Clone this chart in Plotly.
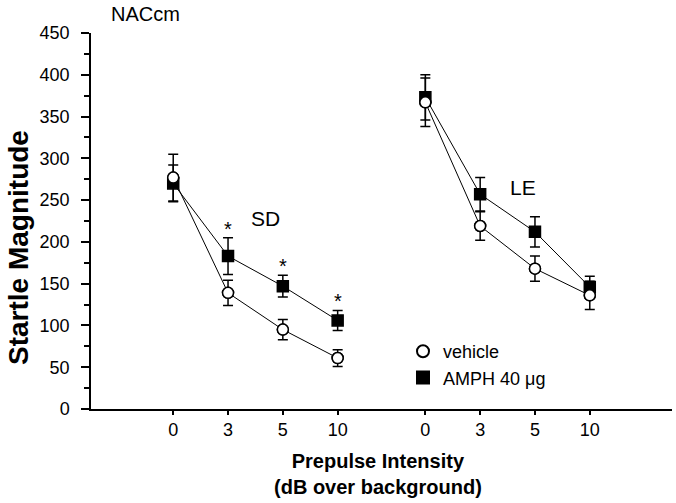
import plotly.graph_objects as go

# ---- data ----
tick_pos = [0, 1, 2, 3, 4.6, 5.6, 6.6, 7.6]
tick_labels = ["0", "3", "5", "10", "0", "3", "5", "10"]

sd_x = [0, 1, 2, 3]
le_x = [4.6, 5.6, 6.6, 7.6]

sd_vehicle = [277, 139, 95, 61]
sd_vehicle_err = [28, 15, 12, 10]
sd_amph = [270, 183, 147, 106]
sd_amph_err = [22, 22, 13, 12]

le_vehicle = [367, 219, 168, 136]
le_vehicle_err = [29, 17, 15, 17]
le_amph = [373, 257, 212, 146]
le_amph_err = [27, 20, 18, 13]

sig_idx = [1, 2, 3]  # SD points with asterisk

FONT = "Liberation Sans, Arial, Helvetica, sans-serif"

fig = go.Figure()

def add_series(x, y, err, symbol, fill):
    fig.add_trace(go.Scatter(
        x=x, y=y, mode="lines+markers", showlegend=False,
        line=dict(color="black", width=1),
        marker=dict(symbol=symbol, size=11, color=fill,
                    line=dict(color="black", width=1.5)),
        error_y=dict(type="data", array=err, color="black",
                     thickness=1.5, width=5),
    ))

add_series(sd_x, sd_vehicle, sd_vehicle_err, "circle", "white")
add_series(sd_x, sd_amph, sd_amph_err, "square", "black")
add_series(le_x, le_vehicle, le_vehicle_err, "circle", "white")
add_series(le_x, le_amph, le_amph_err, "square", "black")
# redraw vehicle circles on top
fig.add_trace(go.Scatter(x=sd_x + le_x, y=sd_vehicle + le_vehicle, mode="markers",
                         showlegend=False,
                         marker=dict(symbol="circle", size=11, color="white",
                                     line=dict(color="black", width=1.5))))

# legend-only traces
fig.add_trace(go.Scatter(x=[None], y=[None], mode="markers", name="vehicle",
                         marker=dict(symbol="circle", size=10, color="white",
                                     line=dict(color="black", width=1.5))))
fig.add_trace(go.Scatter(x=[None], y=[None], mode="markers", name="AMPH 40 μg",
                         marker=dict(symbol="square", size=11, color="black",
                                     line=dict(color="black", width=1))))

annotations = []
for i in sig_idx:
    annotations.append(dict(x=sd_x[i], y=sd_amph[i] + sd_amph_err[i], text="*",
                            showarrow=False, yanchor="bottom", yshift=-4,
                            font=dict(size=20, color="black", family=FONT)))

annotations += [
    dict(x=1.69, y=228, text="SD", showarrow=False,
         font=dict(size=21, color="black", family=FONT)),
    dict(x=6.38, y=265, text="LE", showarrow=False,
         font=dict(size=21, color="black", family=FONT)),
    dict(xref="paper", yref="paper", x=(145 - 91) / 581, y=(409 - 14) / 376,
         xanchor="center", yanchor="middle",
         text="NACcm", showarrow=False,
         font=dict(size=20, color="black", family=FONT)),
    dict(xref="paper", yref="paper", x=(378 - 91) / 581, y=(409 - 448) / 376,
         xanchor="center", yanchor="top",
         text="<b>Prepulse Intensity<br>(dB over background)</b>",
         showarrow=False,
         font=dict(size=20, color="black", family=FONT)),
    dict(xref="paper", yref="paper", x=(18 - 91) / 581, y=(409 - 248) / 376,
         xanchor="center", yanchor="middle",
         text="<b>Startle Magnitude</b>", textangle=-90, showarrow=False,
         font=dict(size=28, color="black", family=FONT)),
]

fig.update_layout(
    width=676, height=503,
    margin=dict(l=91, r=4, t=33, b=94),
    paper_bgcolor="white", plot_bgcolor="white",
    font=dict(family=FONT, color="black", size=18),
    annotations=annotations,
    legend=dict(x=(403 - 91) / 581, y=(409 - 333) / 376, xanchor="left", yanchor="top",
                bgcolor="rgba(0,0,0,0)", font=dict(size=18, family=FONT, color="black"),
                itemsizing="constant"),
    xaxis=dict(range=[-1.5, 9.1], tickmode="array", tickvals=tick_pos,
               ticktext=tick_labels, showgrid=False, zeroline=False,
               showline=True, linecolor="black", linewidth=1.5,
               ticks="outside", ticklen=4, tickwidth=1.5, tickcolor="black",
               tickfont=dict(size=18, family=FONT, color="black")),
    yaxis=dict(range=[0, 450], tickmode="linear", tick0=0, dtick=50,
               showgrid=False, zeroline=False,
               showline=True, linecolor="black", linewidth=1.5,
               ticks="outside", ticklen=8, tickwidth=1.5, tickcolor="black",
               ticklabelstandoff=8,
               minor=dict(dtick=25, ticks="outside", ticklen=5, tickwidth=1.5,
                          tickcolor="black", showgrid=False),
               tickfont=dict(size=18, family=FONT, color="black")),
)

fig.write_html("out.html", config={"displayModeBar": False},
               post_script="document.body.style.margin='0';document.body.style.overflow='hidden';")
